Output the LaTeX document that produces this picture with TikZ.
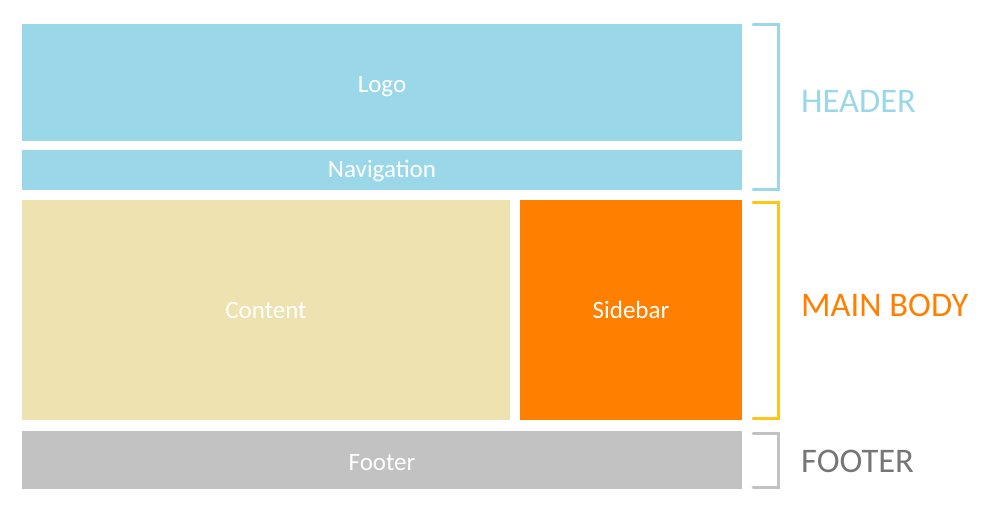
\documentclass[tikz,border=0pt]{standalone}
\usepackage{fontspec}
\setmainfont{Carlito}
\usetikzlibrary{positioning,calc}
\definecolor{headblue}{HTML}{9AD8E9}
\definecolor{bodybeige}{HTML}{EEE2B0}
\definecolor{sideorange}{HTML}{FF7F00}
\definecolor{bodygold}{HTML}{FFC414}
\definecolor{footgray}{HTML}{C2C2C2}
\definecolor{foottext}{HTML}{767676}

\begin{document}
\begin{tikzpicture}[x=1pt,y=-1pt,
      blk/.style={anchor=north west,inner sep=0pt,outer sep=0pt,text=white,
                  font=\fontsize{25}{25}\selectfont},
      brk/.style={line width=3pt,line cap=round,line join=miter},
      sect/.style={anchor=west,inner sep=0pt,font=\fontsize{34.5}{34.5}\selectfont}]
    \useasboundingbox (0,0) rectangle (1000,514);
    % page blocks
    \node[blk,fill=headblue,minimum width=720pt,minimum height=117pt] (logo) at (22,24) {\raisebox{-4pt}[\height][\depth]{Logo}};
    \node[blk,fill=headblue,minimum width=720pt,minimum height=40pt] (nav) at (22,150) {\raisebox{-1pt}[\height][\depth]{Navigation}};
    \node[blk,fill=bodybeige,minimum width=488pt,minimum height=220pt] (content) at (22,200) {Content};
    \node[blk,fill=sideorange,minimum width=222pt,minimum height=220pt] (sidebar) at (520,200) {Sidebar};
    \node[blk,fill=footgray,minimum width=720pt,minimum height=58pt] (footer) at (22,431) {\raisebox{-3pt}[\height][\depth]{Footer}};
    % brackets
    \draw[brk,headblue] (753,24) -- (778,24) -- (778,189) -- (753,189);
    \draw[brk,bodygold] (753,202) -- (778,202) -- (778,418) -- (753,418);
    \draw[brk,footgray] (753,433) -- (778,433) -- (778,487) -- (753,487);
    % section labels
    \node[sect,text=headblue] (headlbl) at (801,101) {HEADER};
    \node[sect,text=sideorange] (bodylbl) at (801,305) {MAIN BODY};
    \node[sect,text=foottext] (footlbl) at (801,461) {FOOTER};
  \end{tikzpicture}
\end{document}
